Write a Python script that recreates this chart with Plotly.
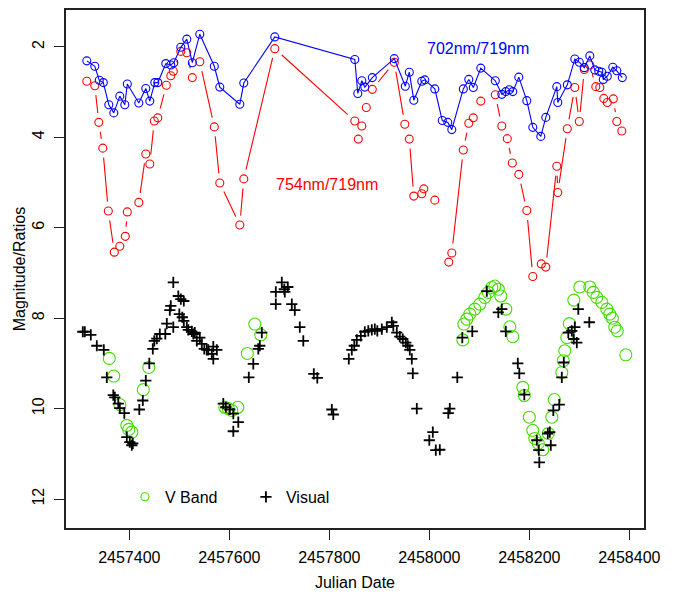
import math
import plotly.graph_objects as go

# Spectral index ratios (magnitudes) from the spectra
ratio_702_jd = [2457315, 2457331, 2457340, 2457348, 2457359, 2457369, 2457381, 2457391, 2457396,
                2457419, 2457433, 2457441, 2457451, 2457457, 2457473, 2457483, 2457489, 2457503,
                2457515, 2457526, 2457541, 2457570, 2457581, 2457621, 2457629, 2457691, 2457851,
                2457857, 2457865, 2457871, 2457886, 2457930, 2457952, 2457960, 2457969, 2457985,
                2457991, 2458011, 2458026, 2458037, 2458045, 2458068, 2458079, 2458088, 2458103,
                2458132, 2458145, 2458153, 2458160, 2458167, 2458179, 2458195, 2458207, 2458223,
                2458233, 2458255, 2458257, 2458276, 2458291, 2458300, 2458310, 2458321, 2458331,
                2458339, 2458345, 2458348, 2458356, 2458367, 2458375, 2458386]
ratio_702 = [2.31, 2.43, 2.74, 2.79, 3.28, 3.46, 3.09, 3.28, 2.82,
             3.24, 2.92, 3.20, 2.79, 2.79, 2.37, 2.40, 2.35, 2.01,
             1.83, 2.35, 1.72, 2.43, 2.89, 3.27, 2.80, 1.78, 2.28,
             3.03, 2.75, 2.89, 2.68, 2.26, 2.87, 2.56, 3.18, 2.76,
             2.73, 2.93, 3.63, 3.67, 3.83, 2.93, 2.72, 2.90, 2.47,
             2.75, 3.05, 2.99, 2.95, 2.99, 2.67, 3.19, 3.78, 3.98,
             3.56, 2.88, 3.23, 2.84, 2.27, 2.34, 2.46, 2.20, 2.51,
             2.54, 2.56, 2.72, 2.65, 2.45, 2.53, 2.68]

ratio_754_jd = [2457315, 2457331, 2457339, 2457347, 2457358, 2457370, 2457381, 2457392, 2457396,
                2457419, 2457433, 2457441, 2457450, 2457457, 2457474, 2457483, 2457488, 2457503,
                2457515, 2457526, 2457541, 2457570, 2457581, 2457621, 2457629, 2457691, 2457851,
                2457858, 2457865, 2457874, 2457886, 2457930, 2457951, 2457960, 2457969, 2457985,
                2457989, 2458011, None, 2458039, 2458045, 2458068, 2458079, 2458088, 2458103,
                2458132, 2458145, 2458156, 2458166, 2458179, 2458195, 2458207, 2458224, 2458233,
                2458255, 2458257, 2458276, 2458291, 2458300, 2458310, 2458321, 2458333, 2458341,
                2458349, 2458356, 2458368, 2458375, 2458385]
ratio_754 = [2.76, 2.86, 3.67, 4.24, 5.63, 6.54, 6.41, 6.19, 5.65,
             5.44, 4.37, 4.59, 3.64, 3.57, 2.85, 2.64, 2.54, 2.10,
             2.13, 2.68, 2.33, 3.77, 5.01, 5.94, 4.92, 2.04, 3.64,
             4.04, 3.75, 3.34, 2.94, 2.34, 3.71, 4.04, 5.30, 5.25,
             5.14, 5.39, None, 6.76, 6.56, 4.28, 3.69, 3.57, 3.20,
             3.06, 3.75, 4.03, 4.57, 4.82, 5.62, 7.08, 6.80, 6.87,
             4.64, 5.22, 3.81, 2.90, 3.65, 2.50, 2.40, 2.88, 2.90,
             3.14, 3.23, 3.15, 3.65, 3.86]

# Photometry
vband_jd = [2457360, 2457369, 2457381, 2457395, 2457399, 2457405, 2457428, 2457439,
            2457591, 2457598, 2457605, 2457617, 2457636, 2457651, 2457663,
            2458067, 2458069, 2458075, 2458081, 2458091, 2458101, 2458111, 2458118,
            2458125, 2458131, 2458138, 2458143, 2458153, 2458161, 2458167, 2458187,
            2458190, 2458200, 2458207, 2458211, 2458218, 2458227, 2458238, 2458245,
            2458250, 2458265, 2458268, 2458271, 2458275, 2458280, 2458289, 2458301,
            2458321, 2458328, 2458335, 2458345, 2458355, 2458361, 2458366, 2458371,
            2458376, 2458393]
vband_mag = [8.89, 9.28, 9.91, 10.37, 10.46, 10.52, 9.58, 9.09,
             9.97, 10.00, 10.04, 9.97, 8.78, 8.13, 8.37,
             8.48, 8.13, 8.02, 7.91, 7.80, 7.69, 7.54, 7.43,
             7.32, 7.29, 7.36, 7.51, 7.80, 8.19, 8.41, 9.53,
             9.71, 10.19, 10.48, 10.66, 10.77, 10.91, 10.55, 10.19,
             9.80, 9.20, 8.94, 8.72, 8.43, 8.12, 7.60, 7.31,
             7.31, 7.43, 7.54, 7.65, 7.80, 7.91, 8.00, 8.20,
             8.28, 8.81]

visual_jd = [2457307, 2457311, 2457323, 2457335, 2457349, 2457355, 2457368, 2457371, 2457378,
             2457381, 2457390, 2457395, 2457401, 2457407, 2457405, 2457420, 2457427, 2457433,
             2457440, 2457447, 2457450, 2457455, 2457461, 2457472, 2457475, 2457481, 2457483,
             2457488, 2457498, 2457503, 2457509, 2457500, 2457506, 2457509, 2457488, 2457515,
             2457518, 2457525, 2457528, 2457531, 2457535, 2457541, 2457545, 2457550, 2457555,
             2457558, 2457565, 2457568, 2457568, 2457575, 2457588, 2457593, 2457601, 2457608,
             2457618, 2457608, 2457639, 2457648, 2457658, 2457661, 2457665, 2457693, 2457693,
             2457705, 2457710, 2457717, 2457711, 2457725, 2457731, 2457741, 2457748, 2457769,
             2457776, 2457805, 2457808, 2457839, 2457845, 2457850, 2457855, 2457863, 2457871,
             2457878, 2457885, 2457891, 2457896, 2457905, 2457915, 2457925, 2457928, 2457935,
             2457941, 2457947, 2457953, 2457957, 2457961, 2457965, 2457967, 2457975, 2458007,
             2458000, 2458013, 2458021, 2458041, 2458038, 2458056, 2458066, 2458086, 2458115,
             2458138, 2458145, 2458153, 2458177, 2458180, 2458190, 2458215, 2458219, 2458220,
             2458237, 2458241, 2458243, 2458248, 2458260, 2458265, 2458269, 2458278, 2458285,
             2458291, 2458289, 2458295, 2458298, 2458320]
visual_mag = [8.30, 8.30, 8.37, 8.61, 8.70, 9.31, 9.70, 9.75, 9.89,
              9.99, 10.10, 10.63, 10.74, 10.77, 10.81, 10.02, 9.82, 9.38,
              9.00, 8.68, 8.50, 8.45, 8.35, 8.35, 8.12, 7.82, 7.73,
              7.21, 7.51, 7.58, 7.62, 7.91, 7.98, 8.06, 8.20, 8.20,
              8.26, 8.29, 8.35, 8.32, 8.50, 8.43, 8.57, 8.68, 8.70,
              8.70, 8.79, 8.63, 8.90, 8.70, 9.89, 9.97, 10.02, 10.11,
              10.30, 10.50, 9.31, 9.01, 8.68, 8.61, 8.32, 7.42, 7.69,
              7.21, 7.36, 7.31, 7.42, 7.69, 7.82, 8.20, 8.50, 9.23,
              9.32, 10.02, 10.13, 8.90, 8.70, 8.61, 8.48, 8.39, 8.30,
              8.28, 8.26, 8.24, 8.28, 8.24, 8.20, 8.09, 8.17, 8.32,
              8.41, 8.46, 8.54, 8.61, 8.70, 8.90, 9.22, 10.00, 10.52,
              10.70, 10.92, 10.91, 10.00, 10.10, 9.31, 8.43, 8.29, 7.40,
              7.87, 7.80, 8.29, 9.00, 9.22, 9.69, 10.70, 10.92, 11.19,
              10.55, 10.52, 10.81, 10.04, 9.91, 9.31, 8.98, 8.32, 8.28,
              8.20, 8.46, 8.54, 7.80, 8.09]

x_ticks = [2457400, 2457600, 2457800, 2458000, 2458200, 2458400]
y_ticks = [2, 4, 6, 8, 10, 12]

# Layout geometry
W, H = 678, 597
M_L, M_R, M_T, M_B = 66, 34, 8, 69
X_RANGE = [2457273.4, 2458429.4]
Y_RANGE = [12.64, 1.185]          # magnitudes: bright at top
plot_w = W - M_L - M_R
plot_h = H - M_T - M_B
kx = plot_w / (X_RANGE[1] - X_RANGE[0])
ky = plot_h / abs(Y_RANGE[0] - Y_RANGE[1])

FONT = "Liberation Sans, Arial, Helvetica, sans-serif"
FS = 16
GREEN = "#44DD00"


def gapped_path(xs, ys, gap_px):
    """Line segments between successive points, pulled back from each point
    (points + gaps style), skipped where the points sit too close."""
    px, py = [], []
    for i in range(len(xs) - 1):
        x0, y0, x1, y1 = xs[i], ys[i], xs[i + 1], ys[i + 1]
        if None in (x0, y0, x1, y1):
            continue
        d = math.hypot((x1 - x0) * kx, (y1 - y0) * ky)
        if d <= 2 * gap_px:
            continue
        f = gap_px / d
        px += [x0 + (x1 - x0) * f, x1 - (x1 - x0) * f, None]
        py += [y0 + (y1 - y0) * f, y1 - (y1 - y0) * f, None]
    return px, py


fig = go.Figure()

# 754nm/719nm: points joined by gapped lines
gx, gy = gapped_path(ratio_754_jd, ratio_754, 9.5)
fig.add_trace(go.Scatter(x=gx, y=gy, mode="lines", line=dict(color="red", width=1.1),
                         showlegend=False, hoverinfo="skip"))
fig.add_trace(go.Scatter(x=ratio_754_jd, y=ratio_754, mode="markers", name="754nm/719nm",
                         marker=dict(symbol="circle-open", size=8, color="red",
                                     line=dict(width=1.1, color="red")),
                         showlegend=False))

# 702nm/719nm: points overplotted on a continuous line
fig.add_trace(go.Scatter(x=ratio_702_jd, y=ratio_702, mode="lines+markers", name="702nm/719nm",
                         line=dict(color="blue", width=1.1),
                         marker=dict(symbol="circle-open", size=8, color="blue",
                                     line=dict(width=1.1, color="blue")),
                         showlegend=False))

# V band photometry
fig.add_trace(go.Scatter(x=vband_jd, y=vband_mag, mode="markers", name="V Band",
                         marker=dict(symbol="circle-open", size=12, color=GREEN,
                                     line=dict(width=1.1, color=GREEN)),
                         showlegend=False))

# Visual estimates
fig.add_trace(go.Scatter(x=visual_jd, y=visual_mag, mode="markers", name="Visual",
                         marker=dict(symbol="cross-thin", size=8, color="black",
                                     line=dict(width=1.8, color="black")),
                         showlegend=False))

# Legend keys (entries only)
fig.add_trace(go.Scatter(x=[None], y=[None], mode="markers", name="V Band",
                         marker=dict(symbol="circle-open", size=8, color=GREEN,
                                     line=dict(width=1.1, color=GREEN))))
fig.add_trace(go.Scatter(x=[None], y=[None], mode="markers", name="Visual",
                         marker=dict(symbol="cross-thin", size=8, color="black",
                                     line=dict(width=1.8, color="black"))))

fig.add_annotation(x=2458097, y=2.04, text="702nm/719nm", showarrow=False,
                   font=dict(color="blue", size=FS, family=FONT))
fig.add_annotation(x=2457795, y=5.04, text="754nm/719nm", showarrow=False,
                   font=dict(color="red", size=FS, family=FONT))

fig.update_layout(
    width=W, height=H,
    margin=dict(l=M_L, r=M_R, t=M_T, b=M_B, pad=0),
    paper_bgcolor="white", plot_bgcolor="white",
    font=dict(family=FONT, size=FS, color="black"),
    legend=dict(orientation="h", x=0.102, y=0.06, xanchor="left", yanchor="middle",
                bgcolor="rgba(0,0,0,0)", font=dict(size=FS),
                entrywidth=76, entrywidthmode="pixels"),
)
fig.update_xaxes(range=X_RANGE, tickvals=x_ticks, ticktext=[str(v) for v in x_ticks],
                 showgrid=False, zeroline=False, showline=True, mirror=True,
                 linecolor="#222", linewidth=1.5, ticks="outside", ticklen=10,
                 tickwidth=1.2, tickcolor="#222", ticklabelstandoff=4,
                 title=dict(text="Julian Date", standoff=12, font=dict(size=FS)))
fig.update_yaxes(range=Y_RANGE, tickvals=y_ticks, ticktext=[str(v) for v in y_ticks],
                 showgrid=False, zeroline=False, showline=True, mirror=True,
                 linecolor="#222", linewidth=1.5, ticks="outside", ticklen=10,
                 tickwidth=1.2, tickcolor="#222", tickangle=-90, ticklabelstandoff=4,
                 title=dict(text="Magnitude/Ratios", standoff=0, font=dict(size=FS)))

fig.write_html("out.html")
